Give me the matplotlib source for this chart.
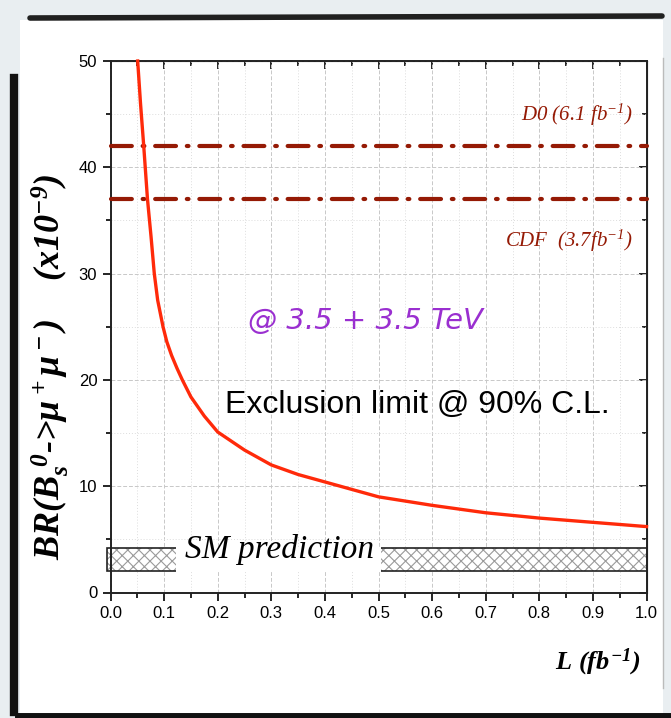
import numpy as np
import matplotlib.pyplot as plt
from matplotlib.patches import Rectangle
from matplotlib.lines import Line2D
from matplotlib.ticker import MultipleLocator

# exclusion limit curve
lumi = [0.0507, 0.056, 0.062, 0.069, 0.0756, 0.0817, 0.088, 0.098, 0.105, 0.114,
        0.124, 0.134, 0.15, 0.175, 0.20, 0.25, 0.30, 0.35, 0.40, 0.50, 0.60, 0.70,
        0.80, 0.90, 1.00]
br_limit = [50.0, 46.0, 42.0, 37.0, 33.5, 30.0, 27.5, 25.0, 23.6, 22.3,
            21.1, 20.0, 18.4, 16.6, 15.1, 13.4, 12.0, 11.1, 10.4, 9.0, 8.2, 7.5,
            7.0, 6.6, 6.2]

d0_limit = 42.0
cdf_limit = 37.0
sm_low, sm_high = 2.0, 4.2

x_ticks = [0.0, 0.1, 0.2, 0.3, 0.4, 0.5, 0.6, 0.7, 0.8, 0.9, 1.0]
y_ticks = [0, 10, 20, 30, 40, 50]

plt.rcParams['mathtext.fontset'] = 'custom'
plt.rcParams['mathtext.rm'] = 'Liberation Serif:italic:bold'
plt.rcParams['mathtext.it'] = 'Liberation Serif:italic:bold'
plt.rcParams['mathtext.bf'] = 'Liberation Serif:italic:bold'

fig = plt.figure(figsize=(6.71, 7.18), dpi=100, facecolor='#e9eef1')

# white card with dark shadow edges
W, H = 671.0, 718.0
fig.add_artist(Rectangle((20 / W, 4 / H), 643 / W, 694 / H, transform=fig.transFigure,
                         facecolor='white', edgecolor='none', zorder=0))
fig.add_artist(Line2D([30 / W, 662 / W], [700 / H, 702 / H], transform=fig.transFigure,
                      color='#202020', lw=4, solid_capstyle='round'))
fig.add_artist(Line2D([14 / W, 14 / W], [6 / H, 640 / H], transform=fig.transFigure,
                      color='#111111', lw=6))
fig.add_artist(Line2D([18 / W, 1.0], [2 / H, 2 / H], transform=fig.transFigure,
                      color='#111111', lw=5))
fig.add_artist(Line2D([663 / W, 663 / W], [30 / H, 660 / H], transform=fig.transFigure,
                      color='#bbbbbb', lw=1))

ax = fig.add_axes([110.5 / W, 125.5 / H, 536 / W, 531.5 / H])
ax.set_facecolor('none')

ax.set_xlim(0, 1.0)
ax.set_ylim(0, 50)
ax.set_xticks(x_ticks)
ax.set_yticks(y_ticks)
ax.xaxis.set_minor_locator(MultipleLocator(0.05))
ax.yaxis.set_minor_locator(MultipleLocator(5))
ax.set_xticklabels(['%.1f' % t for t in x_ticks])
for lab in ax.get_xticklabels() + ax.get_yticklabels():
    lab.set_fontfamily(['Liberation Sans Narrow', 'Liberation Sans'])
    lab.set_fontsize(12)

ax.grid(True, which='major', color='#c8c8c8', ls=(0, (4, 2)), lw=0.7)
ax.grid(True, which='minor', color='#dddddd', ls=(0, (1, 2)), lw=0.7)
ax.set_axisbelow(True)

for s in ax.spines.values():
    s.set_linewidth(1.4)
    s.set_color('#222222')

ax.tick_params(which='both', direction='out', top=False, right=False, width=1.2)
ax.tick_params(which='major', length=6)
ax.tick_params(which='minor', length=3.5)
# inward ticks on top and right
ax2 = ax.secondary_xaxis('top')
ax2.set_xticks(x_ticks)
ax2.xaxis.set_minor_locator(MultipleLocator(0.05))
ax2.tick_params(which='both', direction='in', labeltop=False, width=1.2)
ax2.tick_params(which='major', length=6)
ax2.tick_params(which='minor', length=3.5)
ay2 = ax.secondary_yaxis('right')
ay2.set_yticks(y_ticks)
ay2.yaxis.set_minor_locator(MultipleLocator(5))
ay2.tick_params(which='both', direction='in', labelright=False, width=1.2)
ay2.tick_params(which='major', length=6)
ay2.tick_params(which='minor', length=3.5)

# SM band
plt.rcParams['hatch.linewidth'] = 0.8
ax.add_patch(Rectangle((-0.007, sm_low), 1.007, sm_high - sm_low, facecolor='white',
                       edgecolor='#9a9a9a', hatch='xxx', lw=0, clip_on=False, zorder=2))
ax.add_patch(Rectangle((-0.007, sm_low), 1.007, sm_high - sm_low, facecolor='none',
                       edgecolor='#222222', lw=1.2, clip_on=False, zorder=3))
ax.add_patch(Rectangle((0.122, sm_low - 0.1), 0.383, sm_high - sm_low + 0.2,
                       facecolor='white', edgecolor='none', zorder=3.5))
ax.text(0.315, 4.0, 'SM prediction', fontsize=24, family='Liberation Serif',
        style='italic', ha='center', va='center', zorder=4)

# experimental limits
ax.axhline(d0_limit, color='#951a05', lw=3, ls=(0, (5, 2.6, 0.4, 2.6)),
           dash_capstyle='round', zorder=3, clip_on=False)
ax.axhline(cdf_limit, color='#951a05', lw=3, ls=(0, (5, 2.6, 0.4, 2.6)),
           dash_capstyle='round', zorder=3, clip_on=False)

ax.plot(lumi, br_limit, color='#ff2a0a', lw=2.4, zorder=5, clip_on=False,
        solid_joinstyle='round')

ax.text(0.975, 44.9, r'D0 (6.1 fb$^{\mathregular{-1}}$)', color='#951a05', fontsize=15,
        family='Liberation Serif', style='italic', ha='right', va='center')
ax.text(0.975, 33.1, r'CDF  (3.7fb$^{\mathregular{-1}}$)', color='#951a05', fontsize=15,
        family='Liberation Serif', style='italic', ha='right', va='center')

ax.text(0.475, 25.5, '@ 3.5 + 3.5 TeV', color='#9a2fd0', fontsize=21,
        family='DejaVu Sans', style='italic', ha='center', va='center')
ax.text(0.573, 17.6, 'Exclusion limit @ 90% C.L.', color='black', fontsize=23,
        family='Liberation Sans', ha='center', va='center')

ax.text(0.909, -0.131, r'$L\ (fb^{-1})$', transform=ax.transAxes, fontsize=19,
        ha='center', va='center')
ax.text(-0.112, 0.425, r'$BR(B_s^{\ 0}$->$\mu^+\mu^-)\ \ \ \ (x10^{-9})$',
        transform=ax.transAxes, fontsize=26, rotation=90, ha='center', va='center',
        family='Liberation Serif', style='italic', weight='bold')

fig.savefig('out.png', dpi=100, facecolor=fig.get_facecolor())
